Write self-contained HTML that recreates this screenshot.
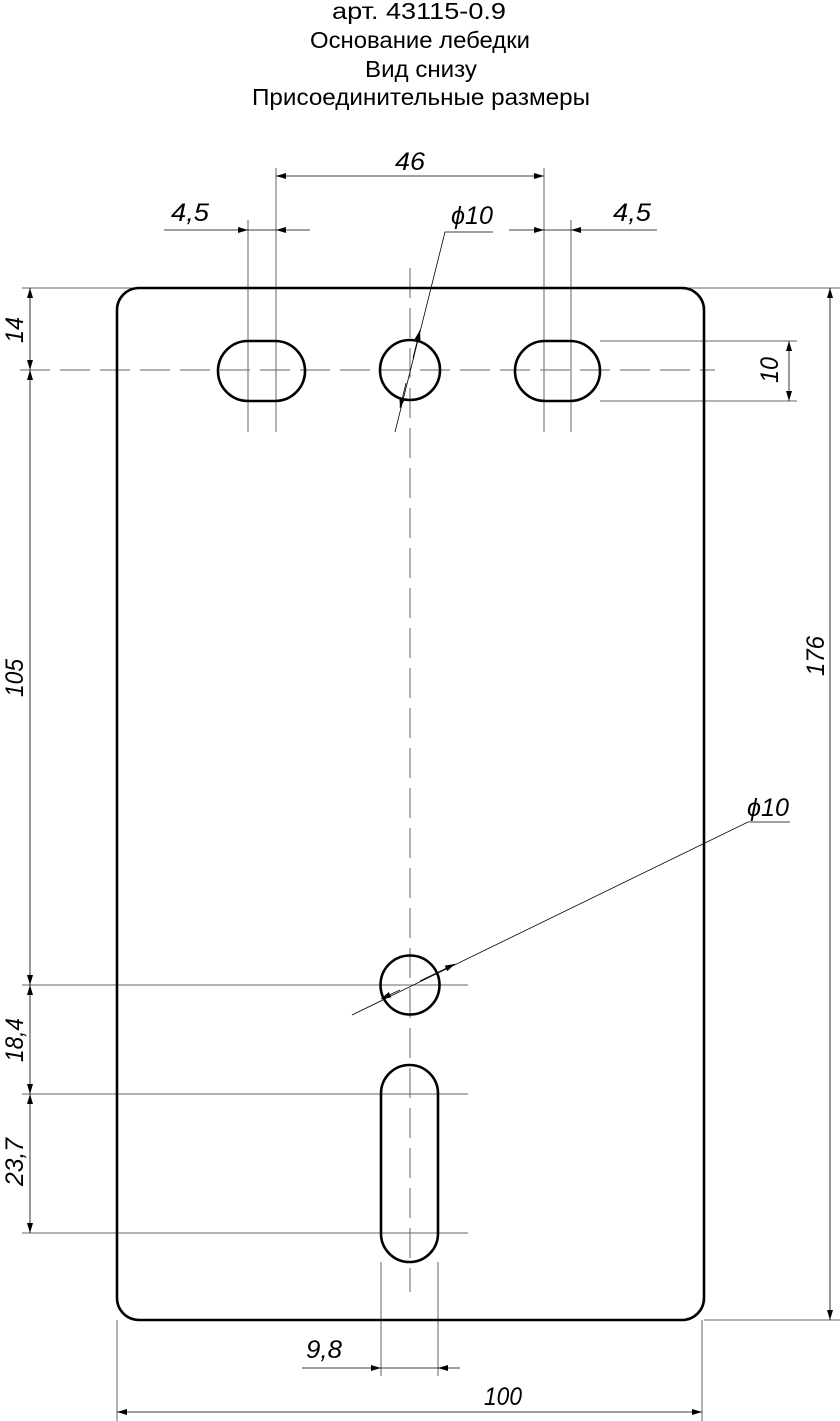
<!DOCTYPE html>
<html><head><meta charset="utf-8"><style>html,body{margin:0;padding:0;background:#fff}svg{display:block}
.t{font-family:"Liberation Sans",sans-serif;font-size:23px;fill:#000}
.d{font-family:"Liberation Sans",sans-serif;font-size:25px;font-style:italic;fill:#000}
</style></head><body>
<svg width="840" height="1421" viewBox="0 0 840 1421" xmlns="http://www.w3.org/2000/svg">
<defs><marker id="a" viewBox="0 0 10 6" refX="10" refY="3" markerWidth="16" markerHeight="6" markerUnits="userSpaceOnUse" orient="auto-start-reverse"><path d="M0,0L10,3L0,6z" fill="#000"/></marker></defs>
<g class="t" text-anchor="middle">
<text x="419" y="19" textLength="174" lengthAdjust="spacingAndGlyphs">арт. 43115-0.9</text>
<text x="420" y="48" textLength="220" lengthAdjust="spacingAndGlyphs">Основание лебедки</text>
<text x="421" y="77" textLength="112" lengthAdjust="spacingAndGlyphs">Вид снизу</text>
<text x="421" y="105" textLength="338" lengthAdjust="spacingAndGlyphs">Присоединительные размеры</text>
</g>
<g stroke="#666" stroke-width="1" fill="none">
<line x1="20" y1="370" x2="715" y2="370" stroke-dasharray="30,10"/>
<line x1="410" y1="268" x2="410" y2="1292" stroke-dasharray="30,10"/>
<line x1="22" y1="288" x2="840" y2="288"/>
<line x1="22" y1="370" x2="50" y2="370"/>
<line x1="22" y1="985" x2="468" y2="985"/>
<line x1="22" y1="1094" x2="468" y2="1094"/>
<line x1="22" y1="1233" x2="468" y2="1233"/>
<line x1="704" y1="1320" x2="840" y2="1320"/>
<line x1="600" y1="341" x2="797" y2="341"/>
<line x1="600" y1="401" x2="797" y2="401"/>
<line x1="248" y1="220" x2="248" y2="432"/>
<line x1="276" y1="168" x2="276" y2="432"/>
<line x1="544" y1="168" x2="544" y2="432"/>
<line x1="571" y1="220" x2="571" y2="432"/>
<line x1="381" y1="1262" x2="381" y2="1376"/>
<line x1="438" y1="1262" x2="438" y2="1376"/>
<line x1="117" y1="1320" x2="117" y2="1421"/>
<line x1="702" y1="1320" x2="702" y2="1421"/>
</g>
<g stroke="#000" stroke-width="0.8" fill="none">
<line x1="276" y1="176" x2="544" y2="176" marker-start="url(#a)" marker-end="url(#a)"/>
<line x1="164" y1="230" x2="248" y2="230" marker-end="url(#a)"/>
<line x1="310" y1="230" x2="276" y2="230" marker-end="url(#a)"/>
<line x1="248" y1="230" x2="276" y2="230"/>
<line x1="509" y1="230" x2="544" y2="230" marker-end="url(#a)"/>
<line x1="657" y1="230" x2="571" y2="230" marker-end="url(#a)"/>
<line x1="544" y1="230" x2="571" y2="230"/>
<line x1="30" y1="288" x2="30" y2="370" marker-start="url(#a)" marker-end="url(#a)"/>
<line x1="30" y1="370" x2="30" y2="985" marker-start="url(#a)" marker-end="url(#a)"/>
<line x1="30" y1="985" x2="30" y2="1094" marker-start="url(#a)" marker-end="url(#a)"/>
<line x1="30" y1="1094" x2="30" y2="1233" marker-start="url(#a)" marker-end="url(#a)"/>
<line x1="830" y1="288" x2="830" y2="1320" marker-start="url(#a)" marker-end="url(#a)"/>
<line x1="789" y1="341" x2="789" y2="401" marker-start="url(#a)" marker-end="url(#a)"/>
<line x1="117" y1="1412" x2="702" y2="1412" marker-start="url(#a)" marker-end="url(#a)"/>
<line x1="302" y1="1368" x2="381" y2="1368" marker-end="url(#a)"/>
<line x1="460" y1="1368" x2="438" y2="1368" marker-end="url(#a)"/>
<line x1="381" y1="1368" x2="438" y2="1368"/>
<polyline points="493,232 445,232 395,432"/>
<line x1="413" y1="358" x2="420" y2="330" marker-end="url(#a)"/>
<line x1="406" y1="383" x2="400" y2="408" marker-end="url(#a)"/>
<polyline points="790,822 748,822 352,1015"/>
<line x1="420" y1="981" x2="455" y2="964" marker-end="url(#a)"/>
<line x1="400" y1="990" x2="381" y2="999" marker-end="url(#a)"/>
</g>
<g stroke="#000" stroke-width="2.6" fill="none">
<rect x="117" y="288" width="587" height="1032" rx="22"/>
<rect x="218" y="341" width="87" height="60" rx="30"/>
<rect x="515" y="341" width="85" height="60" rx="30"/>
<circle cx="410" cy="370" r="30"/>
<circle cx="410" cy="985" r="29.5"/>
<rect x="381" y="1065" width="57" height="197" rx="28.5"/>
</g>
<g class="d" text-anchor="middle" lengthAdjust="spacingAndGlyphs">
<text x="410" y="170" textLength="30" lengthAdjust="spacingAndGlyphs">46</text>
<text x="190" y="221" textLength="38" lengthAdjust="spacingAndGlyphs">4,5</text>
<text x="632" y="221" textLength="38" lengthAdjust="spacingAndGlyphs">4,5</text>
<text x="472" y="224" textLength="42" lengthAdjust="spacingAndGlyphs">ϕ10</text>
<text x="768" y="816" textLength="42" lengthAdjust="spacingAndGlyphs">ϕ10</text>
<text x="324" y="1358" textLength="36" lengthAdjust="spacingAndGlyphs">9,8</text>
<text x="503" y="1405" textLength="38" lengthAdjust="spacingAndGlyphs">100</text>
<text transform="translate(23,330) rotate(-90)" textLength="26" lengthAdjust="spacingAndGlyphs">14</text>
<text transform="translate(23,678) rotate(-90)" textLength="38" lengthAdjust="spacingAndGlyphs">105</text>
<text transform="translate(23,1040) rotate(-90)" textLength="44" lengthAdjust="spacingAndGlyphs">18,4</text>
<text transform="translate(23,1162) rotate(-90)" textLength="48" lengthAdjust="spacingAndGlyphs">23,7</text>
<text transform="translate(824,656) rotate(-90)" textLength="40" lengthAdjust="spacingAndGlyphs">176</text>
<text transform="translate(778,370) rotate(-90)" textLength="26" lengthAdjust="spacingAndGlyphs">10</text>
</g>
</svg>
</body></html>
